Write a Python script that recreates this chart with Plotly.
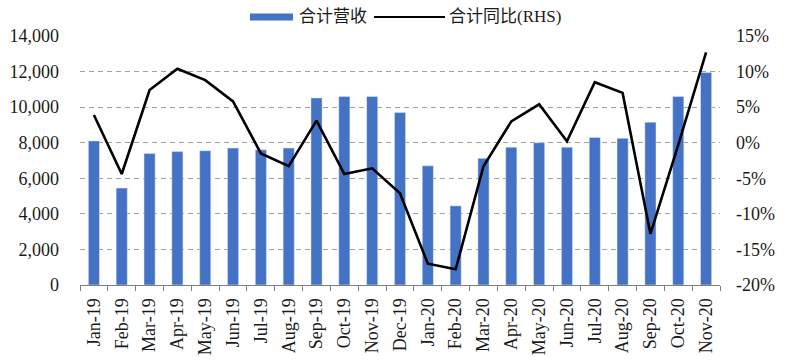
import plotly.graph_objects as go

months = ["Jan-19", "Feb-19", "Mar-19", "Apr-19", "May-19", "Jun-19", "Jul-19", "Aug-19",
          "Sep-19", "Oct-19", "Nov-19", "Dec-19", "Jan-20", "Feb-20", "Mar-20", "Apr-20",
          "May-20", "Jun-20", "Jul-20", "Aug-20", "Sep-20", "Oct-20", "Nov-20"]
revenue = [8100, 5450, 7400, 7500, 7550, 7700, 7600, 7700,
           10520, 10600, 10600, 9700, 6700, 4450, 7120, 7750,
           8000, 7750, 8300, 8250, 9150, 10600, 11950]
yoy = [3.9, -4.4, 7.4, 10.4, 8.8, 5.8, -1.5, -3.3,
       3.1, -4.4, -3.6, -7.1, -17.0, -17.8, -3.3, 3.0,
       5.4, 0.2, 8.5, 7.0, -12.8, -0.3, 12.7]

left_ticks = [0, 2000, 4000, 6000, 8000, 10000, 12000, 14000]
right_ticks = [-20, -15, -10, -5, 0, 5, 10, 15]
right_labels = [f"{v}%" for v in right_ticks]

bar_color = "#4472C4"
serif = "Liberation Serif"
font_family = "Liberation Serif, Noto Sans CJK SC"
text_color = "#1a1a1a"

W, H = 800, 362
ML, MR, MT, MB = 80, 80, 36, 77
PW, PH = W - ML - MR, H - MT - MB


def px_x(x):
    return (x - ML) / PW


def px_y(y):
    return (H - MB - y) / PH


fig = go.Figure()
fig.add_trace(go.Bar(x=months, y=revenue, name="合计营收", marker_color=bar_color,
                     width=0.4, yaxis="y", showlegend=False))
fig.add_trace(go.Scatter(x=months, y=yoy, name="合计同比(RHS)", mode="lines",
                         line=dict(color="black", width=2.6), yaxis="y2", showlegend=False))

fig.update_layout(
    width=W, height=H,
    margin=dict(l=ML, r=MR, t=MT, b=MB, autoexpand=False),
    paper_bgcolor="white", plot_bgcolor="white",
    font=dict(family=font_family, size=15, color=text_color),
    xaxis=dict(type="category", tickangle=-90, showgrid=False,
               showline=True, linecolor="#7f7f7f", linewidth=1.2,
               ticks="outside", tickson="boundaries", ticklen=5, tickcolor="#7f7f7f",
               ticklabelstandoff=5,
               tickfont=dict(size=18, family=serif, color=text_color),
               range=[-0.5, len(months) - 0.5], automargin=False),
    yaxis=dict(range=[0, 14000], tickvals=left_ticks, tickformat=",",
               showgrid=True, gridcolor="#a0a0a0", griddash="5px,4px", gridwidth=1,
               zeroline=False, showline=False, ticks="", ticklabelstandoff=20,
               tickfont=dict(size=18, family=serif, color=text_color), automargin=False),
    yaxis2=dict(range=[-20, 15], tickvals=right_ticks, ticktext=right_labels,
                overlaying="y", side="right", showgrid=False, zeroline=False,
                showline=False, ticks="", ticklabelstandoff=15,
                tickfont=dict(size=18, family=serif, color=text_color), automargin=False),
    bargap=0.6,
)

# legend drawn manually
ly = 17
fig.add_shape(type="rect", xref="paper", yref="paper",
              x0=px_x(250), x1=px_x(293), y0=px_y(ly + 3.5), y1=px_y(ly - 3.5),
              fillcolor=bar_color, line=dict(width=0))
fig.add_annotation(xref="paper", yref="paper", x=px_x(297), y=px_y(ly), text="合计营收",
                   showarrow=False, xanchor="left", yanchor="middle",
                   font=dict(size=17, family=font_family, color=text_color))
fig.add_shape(type="line", xref="paper", yref="paper",
              x0=px_x(374), x1=px_x(445), y0=px_y(ly), y1=px_y(ly),
              line=dict(color="black", width=2.2))
fig.add_annotation(xref="paper", yref="paper", x=px_x(447), y=px_y(ly), text="合计同比(RHS)",
                   showarrow=False, xanchor="left", yanchor="middle",
                   font=dict(size=17, family=font_family, color=text_color))

fig.write_html("out.html", config={"displayModeBar": False},
               post_script="document.body.style.margin='0';")
